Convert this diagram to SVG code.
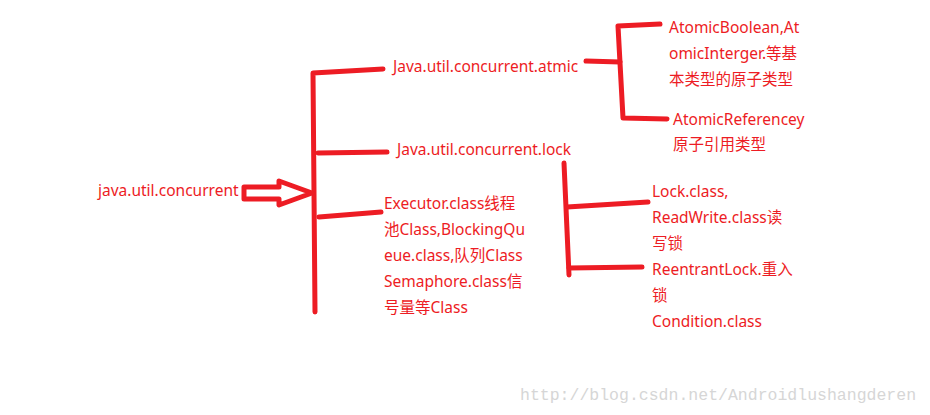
<svg xmlns="http://www.w3.org/2000/svg" width="930" height="415" viewBox="0 0 930 415">
<style>
.t{font-family:"Noto Sans","Noto Sans CJK SC",sans-serif;font-size:15.5px;fill:#ED1C24}
.c{fill:none;stroke:#ED1C24;stroke-width:5;stroke-linecap:round;stroke-linejoin:round}
.w{font-family:"Liberation Mono",monospace;font-size:16.5px;fill:#d6d6d6}
</style>
<rect width="930" height="415" fill="#fff"/>
<g id="connectors">
<polyline class="c" points="383,69 313,73 315,312"/>
<polyline class="c" points="318,153 387,152"/>
<polyline class="c" points="319,217 381,212"/>
<path class="c" stroke-width="4" d="M244,187 L279,187 L279,181 L312,193 L279,205 L279,199 L244,199 Z"/>
<polyline class="c" points="586,61 620,62"/>
<polyline class="c" points="660,24 618,26 623,118 667,119"/>
<polyline class="c" points="564,163 569,275"/>
<polyline class="c" points="567,207 648,202"/>
<polyline class="c" points="569,268 642,267"/>
</g>
<g id="root"><text class="t" x="98" y="196">java.util.concurrent</text></g>
<g id="atmic"><text class="t" x="393" y="72">Java.util.concurrent.atmic</text></g>
<g id="lock"><text class="t" x="397" y="155">Java.util.concurrent.lock</text></g>
<g id="executor">
<text class="t" x="384" y="209">Executor.class线程</text>
<text class="t" x="384" y="235">池Class,BlockingQu</text>
<text class="t" x="384" y="261">eue.class,队列Class</text>
<text class="t" x="384" y="287">Semaphore.class信</text>
<text class="t" x="384" y="313">号量等Class</text>
</g>
<g id="atomicboolean">
<text class="t" x="669" y="33">AtomicBoolean,At</text>
<text class="t" x="669" y="59">omicInterger.等基</text>
<text class="t" x="669" y="85">本类型的原子类型</text>
</g>
<g id="atomicref">
<text class="t" x="673" y="125">AtomicReferencey</text>
<text class="t" x="673" y="150">原子引用类型</text>
</g>
<g id="lockclass">
<text class="t" x="652" y="197">Lock.class,</text>
<text class="t" x="652" y="223">ReadWrite.class读</text>
<text class="t" x="652" y="249">写锁</text>
</g>
<g id="reentrant">
<text class="t" x="652" y="275">ReentrantLock.重入</text>
<text class="t" x="652" y="301">锁</text>
<text class="t" x="652" y="327">Condition.class</text>
</g>
<text class="w" x="520" y="400">http://blog.csdn.net/Androidlushangderen</text>
</svg>
